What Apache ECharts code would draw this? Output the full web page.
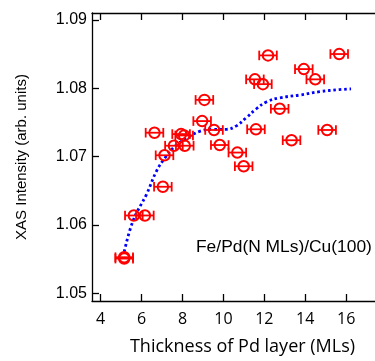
<!DOCTYPE html>
<html>
<head>
<meta charset="utf-8">
<script src="https://cdn.jsdelivr.net/npm/echarts@6/dist/echarts.min.js"></script>
<style>
html,body{margin:0;padding:0;background:#fff;}
#chart{width:375px;height:361px;}
</style>
</head>
<body>
<div id="chart"></div>
<script>
// Data
const thickness = [5.15, 5.15, 5.62, 6.16, 6.63, 7.04, 7.12, 7.58, 7.93, 8.08, 8.11, 8.96, 9.07, 9.54, 9.82, 10.68, 10.99, 11.54, 11.59, 11.93, 12.18, 12.75, 13.33, 13.93, 14.49, 15.07, 15.66];
const intensity = [1.0553, 1.0551, 1.0614, 1.0614, 1.0735, 1.0656, 1.0702, 1.0716, 1.0733, 1.0731, 1.0716, 1.0752, 1.0783, 1.0739, 1.0717, 1.0706, 1.0686, 1.0813, 1.0740, 1.0806, 1.0848, 1.0770, 1.0724, 1.0828, 1.0813, 1.0739, 1.0850];
const xError = [0.43, 0.43, 0.43, 0.43, 0.43, 0.43, 0.43, 0.43, 0.43, 0.43, 0.43, 0.43, 0.43, 0.43, 0.43, 0.43, 0.43, 0.43, 0.43, 0.43, 0.43, 0.43, 0.43, 0.43, 0.43, 0.43, 0.43];
const fitX = [5.15, 5.59, 6.24, 6.73, 7.14, 7.62, 8.2, 8.84, 9.49, 10.15, 10.63, 11.12, 11.61, 12.1, 12.75, 13.72, 14.7, 15.67, 16.24];
const fitY = [1.0561, 1.0607, 1.0645, 1.0679, 1.0698, 1.0715, 1.0727, 1.0737, 1.0740, 1.0740, 1.0745, 1.0757, 1.0770, 1.0780, 1.0786, 1.0790, 1.0795, 1.0798, 1.0799];
const xTicks = [4, 6, 8, 10, 12, 14, 16];
const yTicks = [1.05, 1.06, 1.07, 1.08, 1.09];
const xTitle = 'Thickness of Pd layer (MLs)';
const yTitle = 'XAS Intensity (arb. units)';
const sampleLabel = 'Fe/Pd(N MLs)/Cu(100)';

const points = thickness.map((x, i) => [x, intensity[i], xError[i]]);
const fitLine = fitX.map((x, i) => [x, fitY[i]]);

const chart = echarts.init(document.getElementById('chart'), null, {renderer: 'canvas'});
const axisColor = '#000';
const sans = '"Liberation Sans", Arial, sans-serif';
const wide = '"Open Sans", sans-serif';

chart.setOption({
  animation: false,
  grid: {left: 92, top: 13, right: 0, bottom: 56},
  xAxis: [{
    type: 'value', min: 3.575, max: 17.41, position: 'bottom',
    name: xTitle, nameLocation: 'middle', nameGap: 37,
    nameTextStyle: {color: '#000', fontSize: 18, fontFamily: wide, padding: [0, 0, 0, 18]},
    axisLine: {show: true, lineStyle: {color: axisColor, width: 1.3}},
    axisTick: {show: true, inside: true, length: 7, customValues: xTicks, lineStyle: {color: axisColor, width: 1.3}},
    axisLabel: {show: true, customValues: xTicks, margin: 10, color: '#000', fontSize: 16, fontFamily: wide},
    splitLine: {show: false}
  }, {
    type: 'value', min: 3.575, max: 17.41, position: 'top',
    axisLine: {show: true, onZero: false, lineStyle: {color: axisColor, width: 1.3}},
    axisTick: {show: true, inside: true, length: 7, customValues: xTicks, lineStyle: {color: axisColor, width: 1.3}},
    axisLabel: {show: false},
    splitLine: {show: false}
  }],
  yAxis: [{
    type: 'value', min: 1.0489, max: 1.0910, position: 'left',
    name: yTitle, nameLocation: 'middle', nameGap: 63, nameRotate: 90,
    nameTextStyle: {color: '#000', fontSize: 15, fontFamily: sans},
    axisLine: {show: true, onZero: false, lineStyle: {color: axisColor, width: 1.3}},
    axisTick: {show: true, inside: true, length: 7, customValues: yTicks, lineStyle: {color: axisColor, width: 1.3}},
    axisLabel: {show: true, customValues: yTicks, margin: 5, color: '#000', fontSize: 16, fontFamily: sans,
      formatter: v => v.toFixed(2)},
    splitLine: {show: false}
  }],
  series: [{
    type: 'line', data: fitLine, smooth: 0.4, symbol: 'none', z: 3,
    lineStyle: {color: '#0000ff', width: 2.8, type: [2.6, 2.8]}
  }, {
    type: 'custom', data: points, z: 4,
    renderItem: function (params, api) {
      const x = api.value(0), y = api.value(1), e = api.value(2);
      const p1 = api.coord([x - e, y]);
      const p2 = api.coord([x + e, y]);
      const h = 4.8;
      const st = {stroke: '#ff0000', lineWidth: 1.8};
      return {type: 'group', children: [
        {type: 'line', shape: {x1: p1[0], y1: p1[1], x2: p2[0], y2: p2[1]}, style: st},
        {type: 'line', shape: {x1: p1[0], y1: p1[1] - h, x2: p1[0], y2: p1[1] + h}, style: st},
        {type: 'line', shape: {x1: p2[0], y1: p2[1] - h, x2: p2[0], y2: p2[1] + h}, style: st}
      ]};
    }
  }, {
    type: 'scatter', data: points, z: 5, symbol: 'circle', symbolSize: 10.5,
    itemStyle: {color: 'rgba(255,255,255,0)', borderColor: '#ff0000', borderWidth: 2, opacity: 1}
  }],
  graphic: [{
    type: 'text', left: 196, top: 239,
    style: {text: sampleLabel, fill: '#000', fontSize: 17.4, fontFamily: sans}
  }]
});
</script>
</body>
</html>
